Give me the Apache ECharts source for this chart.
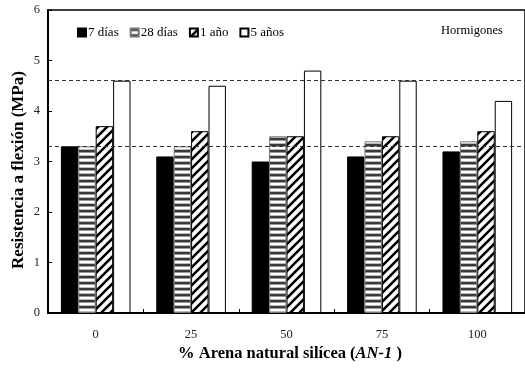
<!DOCTYPE html>
<html><head><meta charset="utf-8">
<script src="https://cdn.jsdelivr.net/npm/echarts@6/dist/echarts.min.js"></script>
<style>html,body{margin:0;padding:0;background:#fff}#c{width:525px;height:371px}</style>
</head><body><div id="c"></div>
<script>
const categories = ['0', '25', '50', '75', '100'];
const seriesNames = ['7 días', '28 días', '1 año', '5 años'];
const dias7 = [3.3, 3.1, 3.0, 3.1, 3.2];
const dias28 = [3.3, 3.3, 3.5, 3.4, 3.4];
const ano1 = [3.7, 3.6, 3.5, 3.5, 3.6];
const anos5 = [4.6, 4.5, 4.8, 4.6, 4.2];
const refLines = [4.6, 3.3];

function stripePattern() {
  const c = document.createElement('canvas');
  c.width = 6; c.height = 6;
  const g = c.getContext('2d');
  g.fillStyle = '#fff'; g.fillRect(0, 0, 6, 6);
  g.fillStyle = '#3a3a3a'; g.fillRect(0, 0, 6, 2);
  g.fillStyle = '#999'; g.fillRect(0, 2, 6, 1);
  g.fillStyle = '#bbb'; g.fillRect(0, 5, 6, 1);
  return c;
}
function hatchPattern() {
  const s = 9;
  const c = document.createElement('canvas');
  c.width = s; c.height = s;
  const g = c.getContext('2d');
  g.fillStyle = '#fff'; g.fillRect(0, 0, s, s);
  g.strokeStyle = '#000'; g.lineWidth = 2.6;
  g.beginPath();
  g.moveTo(-1, s + 1); g.lineTo(s + 1, -1);
  g.moveTo(-1, 1); g.lineTo(1, -1);
  g.moveTo(s - 1, s + 1); g.lineTo(s + 1, s - 1);
  g.stroke();
  return c;
}

const chart = echarts.init(document.getElementById('c'), null, {renderer: 'canvas'});
const serif = 'Liberation Serif, Times New Roman, serif';
const fills = [
  '#000',
  {image: stripePattern(), repeat: 'repeat'},
  {image: hatchPattern(), repeat: 'repeat'},
  '#fff'
];
const borders = ['#000', '#777', '#000', '#000'];
const data = [dias7, dias28, ano1, anos5];

const series = data.map((d, i) => ({
  name: seriesNames[i],
  type: 'bar',
  data: d,
  barGap: '0%',
  barCategoryGap: '27%',
  itemStyle: {color: fills[i], borderColor: borders[i], borderWidth: 1},
  emphasis: {disabled: true},
  animation: false
}));
series[0].markLine = {
  silent: true,
  symbol: 'none',
  label: {show: false},
  lineStyle: {color: '#333', type: [4, 3], width: 1},
  data: refLines.map(v => ({yAxis: v})),
  animation: false
};

chart.setOption({
  animation: false,
  textStyle: {fontFamily: serif},
  grid: {left: 48, right: -7, top: 10, bottom: 58, show: true, borderColor: '#000', borderWidth: 1.5, backgroundColor: 'transparent'},
  legend: {
    left: 72, top: 21,
    itemWidth: 8, itemHeight: 8, itemGap: 11,
    icon: 'rect',
    textStyle: {fontFamily: serif, fontSize: 13, color: '#000', padding: [0, 0, 0, -3]},
    data: seriesNames
  },
  graphic: [{
    type: 'text',
    x: 290, y: 354,
    style: {
      text: '{b|% Arena natural silícea (}{i|AN-1}{b| )}',
      align: 'center', verticalAlign: 'middle',
      rich: {
        b: {fontFamily: serif, fontSize: 16.5, fontWeight: 'bold', fill: '#000'},
        i: {fontFamily: serif, fontSize: 16.5, fontWeight: 'bold', fontStyle: 'italic', fill: '#000'}
      }
    }
  }, {
    type: 'text',
    x: 19, y: 170,
    rotation: Math.PI / 2,
    style: {
      text: 'Resistencia a flexión (MPa)',
      align: 'center', verticalAlign: 'middle',
      font: 'bold 17px ' + serif, fill: '#000'
    }
  }, {
    type: 'text',
    x: 441, y: 31,
    style: {
      text: 'Hormigones',
      align: 'left', verticalAlign: 'middle',
      font: '12.5px ' + serif, fill: '#000'
    }
  }],
  xAxis: {
    type: 'category',
    data: categories,
    axisLine: {lineStyle: {color: '#000', width: 2}},
    axisTick: {show: true, inside: true, length: 4, lineStyle: {color: '#000'}},
    axisLabel: {fontFamily: serif, fontSize: 12.5, color: '#222', margin: 15}
  },
  yAxis: {
    type: 'value',
    min: 0, max: 6, interval: 1,
    axisLine: {show: true, lineStyle: {color: '#000', width: 2}},
    axisTick: {show: true, inside: true, length: 4, lineStyle: {color: '#000'}},
    axisLabel: {fontFamily: serif, fontSize: 12.5, color: '#222', margin: 8},
    splitLine: {show: false}
  },
  series: series
});
</script></body></html>
